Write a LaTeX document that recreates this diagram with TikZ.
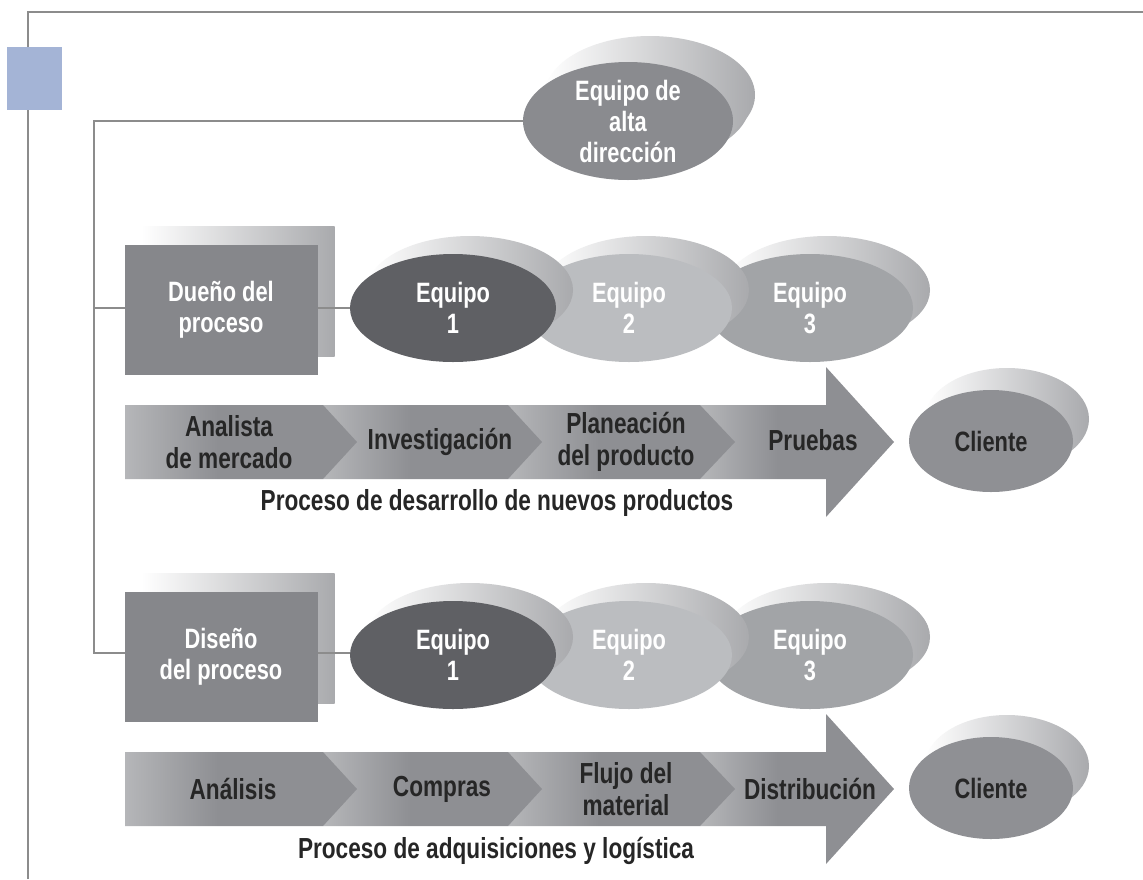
\documentclass[tikz,border=0pt]{standalone}
\usepackage{fontspec}
\setmainfont{Liberation Sans}[FakeStretch=0.78]
\usetikzlibrary{shapes.geometric,shadows}

\definecolor{linegrey}{HTML}{8C8C8C}
\definecolor{bluesq}{HTML}{A4B4D6}
\definecolor{boxgrey}{HTML}{86878B}
\definecolor{topgrey}{HTML}{8A8B8F}
\definecolor{teamdark}{HTML}{5F6064}
\definecolor{teamlight}{HTML}{BBBDC0}
\definecolor{teammid}{HTML}{A2A4A7}
\definecolor{clientgrey}{HTML}{8F9094}
\definecolor{chevgrey}{HTML}{8E8F93}
\definecolor{chevlight}{HTML}{E6E7E8}
\definecolor{shadegrey}{HTML}{A9AAAD}
\definecolor{steptext}{HTML}{262626}

\pgfdeclarehorizontalshading{chevshade}{100bp}{color(0bp)=(chevlight); color(45bp)=(chevgrey); color(100bp)=(chevgrey)}

\tikzset{
    frameline/.style={draw=linegrey, line width=1.5pt},
    bigfont/.style={font=\bfseries\fontsize{28}{31}\selectfont},
    team/.style={ellipse, minimum width=206pt, minimum height=108pt, inner sep=0pt, outer sep=0pt,
        align=center, text=white, bigfont,
        general shadow={left color=white, right color=shadegrey, shadow xshift=17pt, shadow yshift=18pt}},
    ownerbox/.style={rectangle, fill=boxgrey, minimum width=193pt, minimum height=130pt, inner sep=0pt, outer sep=0pt,
        align=center, text=white, bigfont,
        general shadow={left color=white, right color=shadegrey, shadow xshift=17pt, shadow yshift=19pt}},
    client/.style={ellipse, fill=clientgrey, minimum width=164pt, minimum height=102pt, inner sep=0pt, outer sep=0pt,
        text=steptext, bigfont,
        general shadow={left color=white, right color=shadegrey, shadow xshift=16pt, shadow yshift=22pt}},
    steplabel/.style={text=steptext, align=center, font=\bfseries\fontsize{29}{32}\selectfont},
    proccaption/.style={text=steptext, font=\bfseries\fontsize{29}{32}\selectfont}
}

\begin{document}
\begin{tikzpicture}[x=1pt, y=-1pt]
    \fill[white] (0,0) rectangle (1143,879);
    \useasboundingbox (0,0) rectangle (1143,879);

    % frame and blue mark
    \draw[frameline] (28,879) -- (28,12) -- (1143,12);
    \fill[bluesq] (7,47) rectangle (62,110);

    % top team
    \node[team, fill=topgrey, minimum width=210pt, minimum height=118pt,
        general shadow={left color=white, right color=shadegrey, shadow xshift=22pt, shadow yshift=26pt}]
        (alta) at (628,121) {Equipo de\\alta\\dirección};

    % first process
    \node[ownerbox] (dueno) at (221,310) {Dueño del\\proceso};
    \node[team, fill=teammid] (eqA3) at (810,308) {Equipo\\3};
    \node[team, fill=teamlight] (eqA2) at (629,308) {Equipo\\2};
    \node[team, fill=teamdark] (eqA1) at (453,308) {Equipo\\1};

    \shade[shading=chevshade] (700,405) -- (826,405) -- (826,367) -- (894,442) -- (826,517) -- (826,479) -- (700,479) -- cycle;
    \shade[shading=chevshade] (508,405) -- (700,405) -- (735,442) -- (700,479) -- (508,479) -- cycle;
    \shade[shading=chevshade] (323,405) -- (508,405) -- (542,442) -- (508,479) -- (323,479) -- cycle;
    \shade[shading=chevshade] (125,405) -- (323,405) -- (357,442) -- (323,479) -- (125,479) -- cycle;
    \node[steplabel] (analista) at (229,442) {Analista\\de mercado};
    \node[steplabel] (investig) at (440,442) {Investigación};
    \node[steplabel] (planea) at (626,442) {Planeación\\del producto};
    \node[steplabel] (pruebas) at (813,440) {Pruebas};
    \node[client] (clienteA) at (991,441) {Cliente};
    \node[proccaption] (procA) at (497,503) {Proceso de desarrollo de nuevos productos};

    % second process
    \node[ownerbox] (diseno) at (221,657) {Diseño\\del proceso};
    \node[team, fill=teammid] (eqB3) at (810,655) {Equipo\\3};
    \node[team, fill=teamlight] (eqB2) at (629,655) {Equipo\\2};
    \node[team, fill=teamdark] (eqB1) at (453,655) {Equipo\\1};

    \shade[shading=chevshade] (700,752) -- (826,752) -- (826,714) -- (894,789) -- (826,864) -- (826,826) -- (700,826) -- cycle;
    \shade[shading=chevshade] (508,752) -- (700,752) -- (735,789) -- (700,826) -- (508,826) -- cycle;
    \shade[shading=chevshade] (323,752) -- (508,752) -- (542,789) -- (508,826) -- (323,826) -- cycle;
    \shade[shading=chevshade] (125,752) -- (323,752) -- (357,789) -- (323,826) -- (125,826) -- cycle;
    \node[steplabel] (analisis) at (233,789) {Análisis};
    \node[steplabel] (compras) at (442,789) {Compras};
    \node[steplabel] (flujo) at (626,789) {Flujo del\\material};
    \node[steplabel] (distrib) at (810,789) {Distribución};
    \node[client] (clienteB) at (991,788) {Cliente};
    \node[proccaption] (procB) at (496,851) {Proceso de adquisiciones y logística};

    % connectors
    \coordinate (brtop) at (94,121);
    \coordinate (brbot) at (94,653);
    \draw[frameline] (alta.west) -- (brtop) -- (brbot) -- (brbot -| diseno.west);
    \draw[frameline] (brtop |- eqA1.west) -- (dueno.west |- eqA1.west);
    \draw[frameline] (dueno.east |- eqA1.west) -- (eqA1.west);
    \draw[frameline] (diseno.east |- brbot) -- (eqB1.west |- brbot);
\end{tikzpicture}
\end{document}
